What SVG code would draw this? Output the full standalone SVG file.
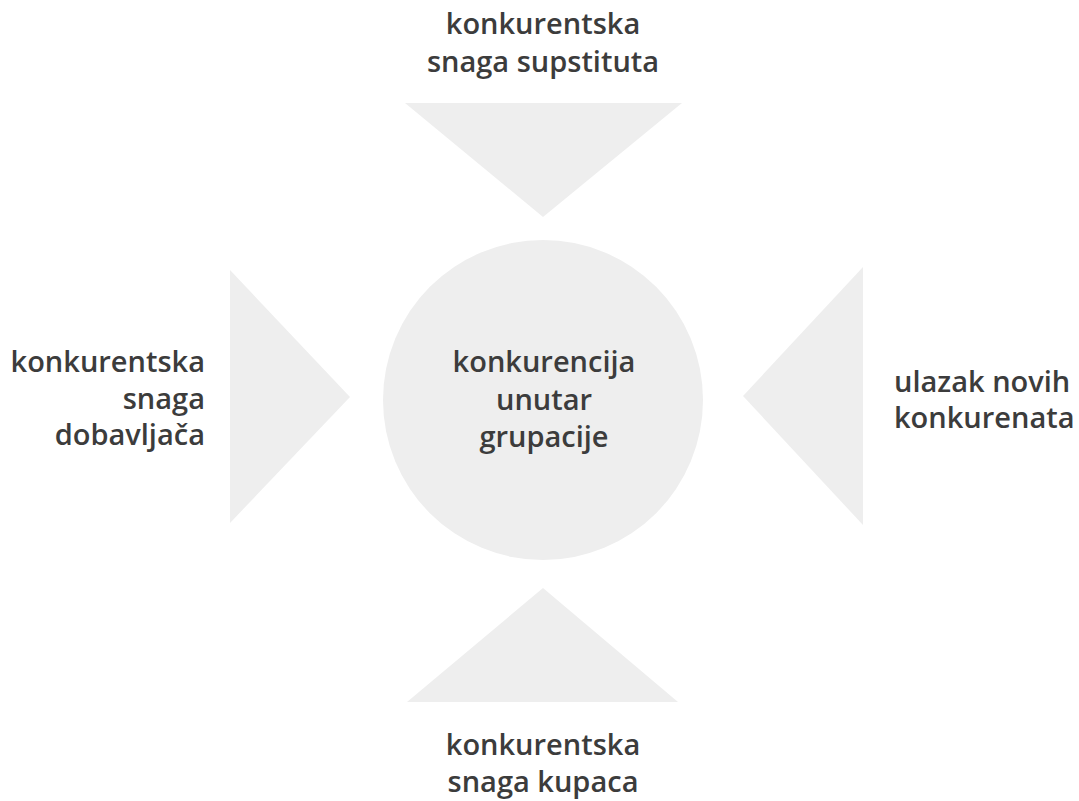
<svg xmlns="http://www.w3.org/2000/svg" width="1079" height="801" viewBox="0 0 1079 801">
<style>
.shape{fill:#eeeeee;stroke:none}
.lbl{font-family:"Open Sans","Noto Sans",sans-serif;font-weight:600;font-size:29px;fill:#3c3c3c}
.c{text-anchor:middle}
.r{text-anchor:end}
.l{text-anchor:start}
</style>
<rect width="1079" height="801" fill="#ffffff"/>
<g id="center">
<circle class="shape" cx="543" cy="400" r="160"/>
<text class="lbl c" x="544" y="372">konkurencija</text>
<text class="lbl c" x="544" y="410">unutar</text>
<text class="lbl c" x="544" y="447">grupacije</text>
</g>
<g id="connectors">
<polygon id="arrow-top" class="shape" points="405,103 682,103 543,217"/>
<polygon id="arrow-left" class="shape" points="230,270 230,523 350,397"/>
<polygon id="arrow-right" class="shape" points="863,267 863,525 743,396"/>
<polygon id="arrow-bottom" class="shape" points="407,702 678,702 543,588"/>
</g>
<g id="supstituti">
<text class="lbl c" x="543" y="34">konkurentska</text>
<text class="lbl c" x="543" y="72">snaga supstituta</text>
</g>
<g id="dobavljaci">
<text class="lbl r" x="205" y="372">konkurentska</text>
<text class="lbl r" x="205" y="409">snaga</text>
<text class="lbl r" x="205" y="445">dobavljača</text>
</g>
<g id="novi">
<text class="lbl l" x="894" y="392">ulazak novih</text>
<text class="lbl l" x="894" y="428">konkurenata</text>
</g>
<g id="kupci">
<text class="lbl c" x="543" y="755">konkurentska</text>
<text class="lbl c" x="543" y="792">snaga kupaca</text>
</g>
</svg>
